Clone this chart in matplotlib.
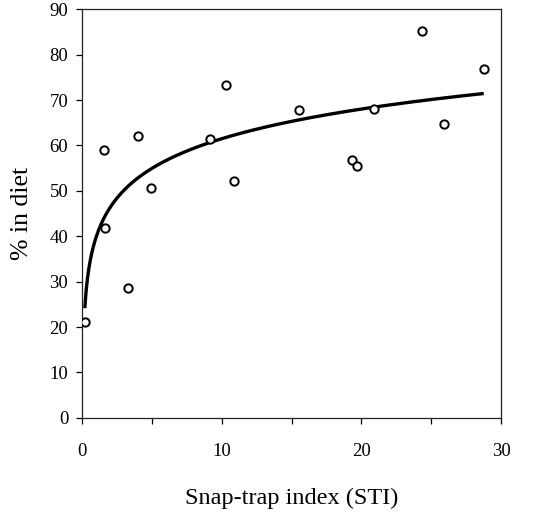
import matplotlib

matplotlib.use("Agg")
import matplotlib.pyplot as plt  # noqa: E402
import numpy as np  # noqa: E402

plt.rcParams["font.family"] = ["Liberation Serif", "DejaVu Serif"]

sti = [0.19, 1.55, 1.62, 3.27, 3.98, 4.91, 9.16, 10.30, 10.87,
       15.50, 19.34, 19.68, 20.92, 24.33, 25.90, 28.76]
pct_diet = [21.1, 59.0, 41.9, 28.6, 62.1, 50.7, 61.5, 73.3, 52.1,
            67.8, 56.7, 55.4, 68.1, 85.3, 64.8, 76.8]

# logarithmic trend line: y = a + b * ln(x)
fit_a = 39.8
fit_b = 9.42
fit_range = (0.19, 28.76)

x_ticks = [0, 10, 20, 30]
y_ticks = list(range(0, 91, 10))

fig = plt.figure(figsize=(5.44, 5.14), dpi=100)
ax = fig.add_axes([0.151, 0.187, 0.770, 0.795])

xs = np.linspace(fit_range[0], fit_range[1], 300)
ax.plot(xs, fit_a + fit_b * np.log(xs), color="black", linewidth=2.4,
        solid_capstyle="butt", zorder=2)
ax.plot(sti, pct_diet, linestyle="none", marker="o", markersize=6,
        markerfacecolor="white", markeredgecolor="black",
        markeredgewidth=1.4, zorder=3)

ax.set_xlim(0, 30)
ax.set_ylim(0, 90)
ax.set_xticks(x_ticks)
ax.set_xticks([5, 15, 25], minor=True)
ax.set_yticks(y_ticks)
ax.tick_params(axis="both", which="both", direction="out", length=4,
               width=0.9, labelsize=13.5, colors="black")
ax.tick_params(axis="x", which="major", pad=14)
ax.tick_params(axis="y", pad=6)

for spine in ax.spines.values():
    spine.set_linewidth(0.9)
    spine.set_color("#222222")

ax.set_xlabel("Snap-trap index (STI)", fontsize=17.5, labelpad=20)
ax.set_ylabel("% in diet", fontsize=18.5, labelpad=12)

fig.savefig("out.png", dpi=100)
plt.close(fig)
